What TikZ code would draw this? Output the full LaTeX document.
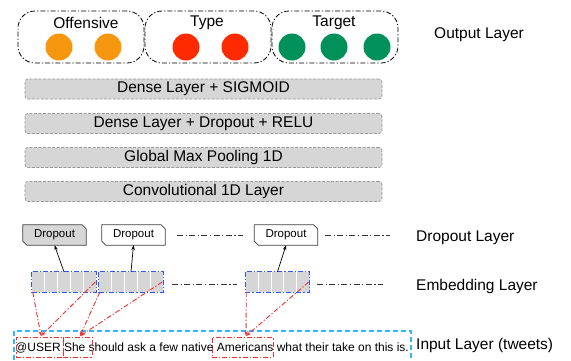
\documentclass[tikz,border=0pt]{standalone}
\usepackage{fontspec}
\setmainfont{Liberation Sans}
\usetikzlibrary{calc,arrows.meta}
\definecolor{corange}{HTML}{F7960F}
\definecolor{cred}{HTML}{FF2A00}
\definecolor{cgreen}{HTML}{00915A}
\definecolor{cgray}{HTML}{D6D6D6}
\definecolor{cblue}{HTML}{2F55FF}
\definecolor{clblue}{HTML}{33B5FF}
\definecolor{cline}{HTML}{F03030}
\newcommand{\myBigFont}{\fontsize{15.5}{18}\selectfont}
\newcommand{\mySmallFont}{\fontsize{11.5}{14}\selectfont}
\newcommand{\myTweetFont}{\fontsize{12}{14}\selectfont}
\tikzset{
  dashdotpat/.style={dash pattern=on 5pt off 2pt on 1.2pt off 2pt},
  gappat/.style={dash pattern=on 6pt off 2.5pt on 1.2pt off 2.5pt},
  grp/.style={draw=black, dashdotpat, line width=0.8pt, rounded corners=17pt,
    minimum width=126pt, minimum height=52pt, inner sep=0pt},
  dot/.style={circle, minimum size=27pt, inner sep=0pt},
  grplabel/.style={font=\myBigFont, inner sep=0pt},
  dense/.style={draw=gray!80, dash pattern=on 3pt off 1.5pt, line width=0.7pt, fill=cgray, rounded corners=3pt,
    minimum width=357pt, minimum height=20pt, inner sep=0pt, font=\myBigFont},
  layerlabel/.style={font=\myBigFont, anchor=west, inner sep=0pt},
  dropnode/.style={minimum width=63pt, minimum height=20pt, inner sep=0pt, font=\mySmallFont},
  dropline/.style={draw=black!75, line width=0.7pt},
  embnode/.style={fill=cgray, minimum width=64pt, minimum height=20pt, inner sep=0pt},
  embborder/.style={draw=cblue, dashdotpat, line width=1.2pt},
  cellsep/.style={draw=white, line width=1pt},
  gapline/.style={draw=black!80, gappat, line width=0.8pt},
  arr/.style={draw=black, line width=0.7pt, -{Stealth[length=5pt,width=3.5pt]}},
  redarr/.style={draw=cline, dashdotpat, line width=0.9pt, -{Stealth[length=5pt,width=3.5pt]}},
  wordbox/.style={draw=cline, dashdotpat, line width=0.9pt},
  inbox/.style={draw=clblue, dash pattern=on 5pt off 3pt, line width=1.2pt},
}
\begin{document}
\begin{tikzpicture}[x=1pt,y=-1pt]
\useasboundingbox (0,0) rectangle (571,360);

% output groups
\node[grp] (g1) at (81,37) {};
\node[grp] (g2) at (208,37) {};
\node[grp] (g3) at (335,37) {};
\node[grplabel] (l1) at (86,22.5) {Offensive};
\node[grplabel] (l2) at (207,22.5) {Type};
\node[grplabel] (l3) at (334,22.5) {Target};
\node[dot, fill=corange] (o1) at (59,47) {};
\node[dot, fill=corange] (o2) at (108,47) {};
\node[dot, fill=cred] (t1) at (186,47) {};
\node[dot, fill=cred] (t2) at (235,47) {};
\node[dot, fill=cgreen] (a1) at (292,47) {};
\node[dot, fill=cgreen] (a2) at (334,47) {};
\node[dot, fill=cgreen] (a3) at (377,47) {};
\node[layerlabel] (outl) at (434,35) {Output Layer};

% dense layers
\node[dense] (dl1) at (203.5,89) {Dense Layer + SIGMOID};
\node[dense] (dl2) at (203.5,123.5) {Dense Layer + Dropout + RELU};
\node[dense] (dl3) at (203.5,157.5) {Global Max Pooling 1D};
\node[dense] (dl4) at (203.5,191.5) {Convolutional 1D Layer};

% dropout boxes
\foreach \n/\x/\f in {d1/54.5/cgray, d2/133.5/white, d3/286/white}{
  \node[dropnode] (\n) at (\x,235) {};
  \draw[dropline, fill=\f] (\n.north west) -- ([xshift=-4pt]\n.north east) -- ([yshift=-4pt]\n.north east)
     -- (\n.south east) -- ([xshift=4pt]\n.south west) -- ([yshift=4pt]\n.south west) -- cycle;
  \node[dropnode] at (\n) {Dropout};
}
\coordinate (gd1a) at (177,235);
\coordinate (gd1b) at (243,235);
\coordinate (gd2a) at (325,235);
\coordinate (gd2b) at (390,235);
\draw[gapline] (gd1a) -- (gd1b);
\draw[gapline] (gd2a) -- (gd2b);
\node[layerlabel] (dropl) at (416,238) {Dropout Layer};

% embedding boxes
\foreach \n/\x in {e1/64, e2/131, e3/277.5}{
  \node[embnode] (\n) at (\x,282) {};
  \foreach \i in {1,...,4}{
    \draw[cellsep] ($(\n.north west)!\i/5!(\n.north east)$) -- ($(\n.south west)!\i/5!(\n.south east)$);
  }
  \draw[embborder] (\n.north west) rectangle (\n.south east);
}
\coordinate (ge1a) at (172,284);
\coordinate (ge1b) at (237,284);
\coordinate (ge2a) at (317,284);
\coordinate (ge2b) at (383,284);
\draw[gapline] (ge1a) -- (ge1b);
\draw[gapline] (ge2a) -- (ge2b);
\node[layerlabel] (embl) at (416,286) {Embedding Layer};

% arrows embedding -> dropout
\draw[arr] (e1.north) -- (d1.south);
\draw[arr] (e2.north) -- (d2.south);
\draw[arr] (e3.north) -- (d3.south);

% input layer
\draw[inbox] (14,360) -- (14,331) -- (411,331) -- (411,360);
\node[anchor=base west, inner sep=0pt, font=\myTweetFont] (tweet) at (15,351)
  {@USER She should ask a few native Americans what their take on this is.};
\node[layerlabel] (inl) at (416,345) {Input Layer (tweets)};

% word boxes
\node[wordbox, minimum width=47pt, minimum height=20pt, inner sep=0pt] (w1) at (39.5,347) {};
\node[wordbox, minimum width=29pt, minimum height=20pt, inner sep=0pt] (w2) at (77.5,347) {};
\node[wordbox, minimum width=61pt, minimum height=20pt, inner sep=0pt] (w3) at (242.5,347) {};
\coordinate (w1t) at (41,336);
\coordinate (w2t) at (80,336);
\coordinate (w3t) at (246,336);

% red mapping lines
\draw[redarr] ([xshift=1pt]e1.south west) -- (w1t);
\draw[redarr] ([xshift=-1pt]e1.east) -- (w1t);
\draw[redarr] ([xshift=1pt]e2.south west) -- (w2t);
\draw[redarr] ([xshift=-1pt]e2.east) -- (w2t);
\draw[redarr] ([xshift=1pt]e3.south west) -- (w3t);
\draw[redarr] ([xshift=-1pt]e3.east) -- (w3t);
\end{tikzpicture}
\end{document}
